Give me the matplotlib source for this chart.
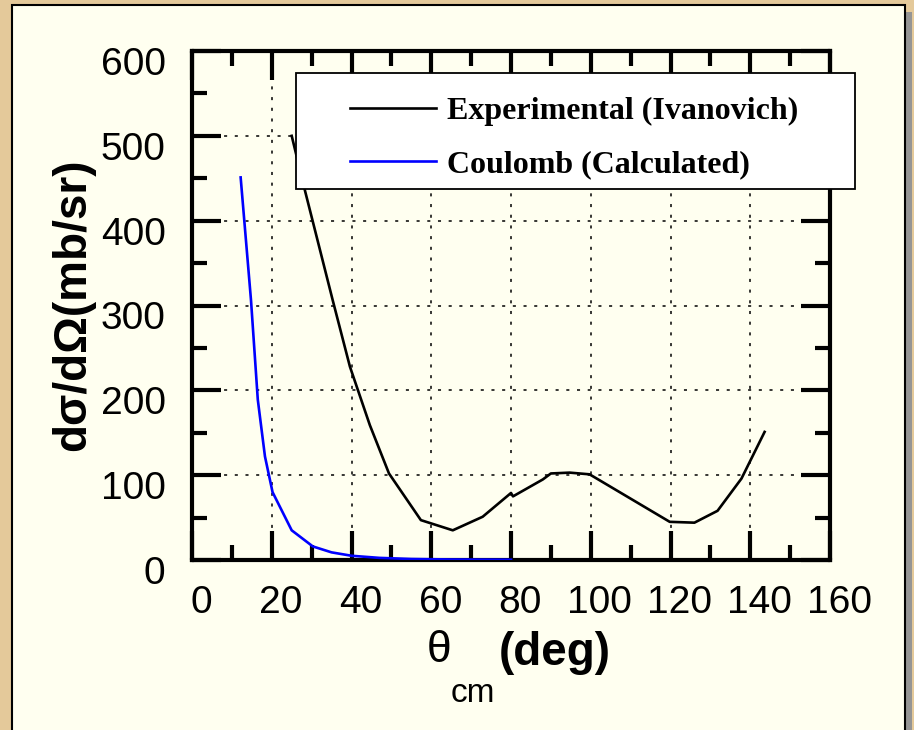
import matplotlib
matplotlib.use("Agg")
from matplotlib import pyplot as plt
from matplotlib.patches import Rectangle
from matplotlib.transforms import ScaledTranslation
from matplotlib.ticker import MultipleLocator

# data
theta_exp = [25, 28.3, 35.3, 39.6, 44.6, 49.4, 57.4, 65.4, 72.9, 80, 80.5, 88, 90, 94.7, 99.7, 101.5, 119.8, 126, 131.8, 137.8, 143.6]
sigma_exp = [500, 436, 306, 228, 159, 102, 47, 35, 51, 79, 75, 95, 102, 103, 101, 96, 45, 44, 58, 96, 151]

theta_coul = [12.2, 14.8, 16.5, 18.3, 20.2, 25, 30.3, 35, 40, 47, 55, 65, 80]
sigma_coul = [451, 306, 189, 122, 80, 35, 16, 9, 5, 2.5, 1.2, 0.6, 0.3]

x_ticks = [0, 20, 40, 60, 80, 100, 120, 140, 160]
y_ticks = [0, 100, 200, 300, 400, 500, 600]
labels = ["Experimental (Ivanovich)", "Coulomb (Calculated)"]

W, H = 914, 730
fig = plt.figure(figsize=(W / 100, H / 100), dpi=100, facecolor="#e4c99a")

# cream panel with a grey drop shadow
fig.patches.append(Rectangle((19 / W, -0.1), 893 / W, 1.1 - 12 / H, transform=fig.transFigure,
                             facecolor="#959595", edgecolor="none", zorder=-2))
fig.patches.append(Rectangle((12 / W, -0.1), 893 / W, 1.1 - 5 / H, transform=fig.transFigure,
                             facecolor="#fffff0", edgecolor="black", linewidth=1.5, zorder=-1))

ax = fig.add_axes([192 / W, 1 - 560 / H, 638 / W, 509 / H])
ax.set_zorder(2)
ax.set_facecolor("#fffff0")

l1, = ax.plot(theta_exp, sigma_exp, color="black", linewidth=1.9, zorder=3)
l2, = ax.plot(theta_coul, sigma_coul, color="#0000ff", linewidth=1.9, zorder=3)

ax.set_xlim(0, 160)
ax.set_ylim(0, 600)
ax.set_xticks(x_ticks)
ax.set_yticks(y_ticks)
ax.xaxis.set_minor_locator(MultipleLocator(10))
ax.yaxis.set_minor_locator(MultipleLocator(50))
ax.grid(True, which="major", color="black", linestyle=(0, (2, 5)), linewidth=1.1)

ax.tick_params(which="both", direction="in", top=True, right=True, width=3, color="black")
ax.tick_params(which="major", length=21, labelsize=28)
ax.tick_params(axis="x", which="major", pad=18)
ax.tick_params(axis="y", which="major", pad=19)
ax.tick_params(which="minor", length=11)
for s in ax.spines.values():
    s.set_linewidth(3)

for lbl in ax.get_xticklabels() + ax.get_yticklabels():
    lbl.set_family("Liberation Sans")
for lbl in ax.get_xticklabels():
    lbl.set_transform(lbl.get_transform() + ScaledTranslation(9 / 100, 0, fig.dpi_scale_trans))
for lbl in ax.get_yticklabels():
    lbl.set_transform(lbl.get_transform() + ScaledTranslation(0, -10 / 100, fig.dpi_scale_trans))

# legend box drawn separately so it can stick out past the right spine
ax.add_patch(Rectangle((0.163, 0.729), 0.876, 0.228, transform=ax.transAxes, clip_on=False,
                       facecolor="white", edgecolor="black", linewidth=1.3, zorder=6))
leg = ax.legend([l1, l2], labels, loc="upper left", bbox_to_anchor=((350 - 192) / 638, 0.91),
                frameon=False, borderpad=0, borderaxespad=0, handlelength=2.7, handletextpad=0.35,
                labelspacing=0.74, prop={"family": "Liberation Serif", "weight": "bold", "size": 23})
leg.set_zorder(7)

fig.text(73 / W, 1 - 305 / H, "dσ/dΩ(mb/sr)", rotation=90, ha="center", va="center",
         fontsize=33, fontweight="bold", family="Liberation Sans")
fig.text(439 / W, 1 - 650 / H, "θ", ha="center", va="center", fontsize=32, family="Liberation Sans")
fig.text(555 / W, 1 - 653 / H, "(deg)", ha="center", va="center", fontsize=33,
         fontweight="bold", family="Liberation Sans")
fig.text(473 / W, 1 - 694 / H, "cm", ha="center", va="center", fontsize=24, family="Liberation Sans")

fig.savefig("out.png", dpi=100, facecolor=fig.get_facecolor())
